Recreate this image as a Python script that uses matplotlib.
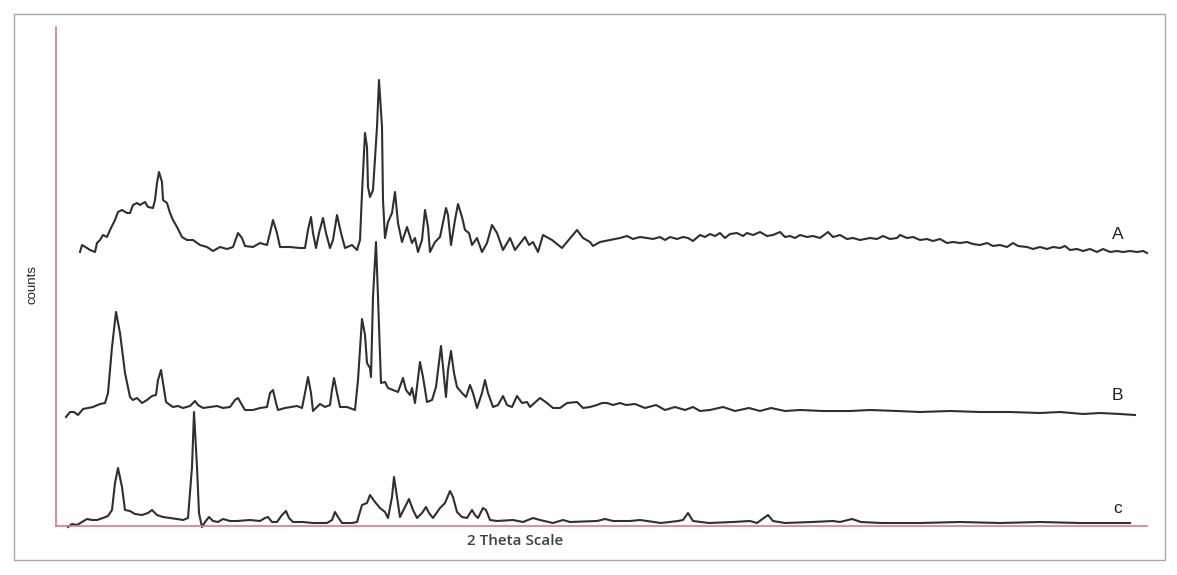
import matplotlib
matplotlib.use("Agg")
import matplotlib.pyplot as plt
from matplotlib.patches import Rectangle

# ---- data (arbitrary 2-theta units, counts) ----
a_x = [24, 26, 31, 34, 39, 41, 44, 47, 51, 54, 59, 62, 66, 71, 74, 77, 81, 84, 89, 92,
       97, 99, 101, 103, 106, 107, 111, 114, 117, 121, 126, 131, 137, 144, 151, 157, 164, 171, 177, 182,
       186, 189, 197, 204, 211, 214, 217, 221, 224, 234, 244, 249, 252, 255, 257, 260, 263, 267, 270, 274,
       277, 281, 285, 289, 296, 301, 304, 306, 309, 311, 312, 314, 317, 321, 323, 326, 327, 329, 332, 336,
       339, 342, 346, 351, 356, 359, 362, 366, 369, 372, 374, 379, 384, 390, 392, 395, 399, 402, 406, 409,
       413, 416, 421, 426, 431, 436, 441, 447, 454, 459, 469, 473, 477, 482, 487, 496, 506, 521, 527, 534,
       537, 544, 554, 564, 571, 577, 584, 591, 597, 604, 609, 614, 621, 627, 632, 637, 644, 649, 654, 659,
       664, 669, 674, 681, 687, 691, 697, 704, 711, 717, 724, 729, 734, 739, 744, 751, 757, 764, 772, 777,
       784, 791, 797, 804, 814, 821, 827, 834, 841, 844, 851, 857, 864, 871, 877, 884, 891, 897, 904, 911,
       917, 924, 931, 937, 944, 951, 957, 962, 971, 977, 984, 991, 997, 1004, 1009, 1014, 1021, 1027, 1034, 1041,
       1047, 1054, 1061, 1067, 1074, 1081, 1087, 1091]
a_y = [274, 281, 278, 276, 274, 283, 286, 291, 289, 296, 306, 314, 316, 313, 313, 321, 323, 321, 324, 319,
       318, 326, 343, 354, 344, 326, 323, 313, 306, 299, 289, 286, 286, 281, 279, 275, 279, 277, 279, 293,
       288, 280, 279, 283, 281, 293, 306, 293, 279, 279, 278, 278, 296, 309, 293, 278, 293, 308, 293, 278,
       286, 311, 293, 278, 281, 276, 286, 333, 393, 379, 339, 329, 336, 399, 446, 399, 326, 288, 304, 313,
       334, 303, 284, 299, 283, 288, 274, 286, 316, 299, 274, 284, 289, 318, 311, 281, 306, 322, 309, 296,
       293, 281, 288, 274, 283, 301, 293, 276, 288, 276, 289, 281, 284, 274, 291, 286, 278, 296, 288, 284,
       280, 284, 286, 288, 290, 287, 289, 288, 287, 289, 286, 289, 287, 289, 288, 285, 291, 289, 292, 290,
       293, 288, 292, 293, 290, 293, 291, 294, 290, 291, 294, 289, 290, 288, 291, 289, 290, 288, 294, 289,
       291, 287, 288, 286, 288, 287, 290, 287, 288, 291, 288, 289, 286, 287, 285, 287, 283, 284, 283, 284,
       282, 281, 283, 280, 281, 279, 283, 280, 279, 277, 279, 277, 279, 278, 280, 276, 277, 275, 277, 274,
       277, 274, 275, 274, 275, 274, 275, 273]

b_x = [10, 14, 18, 22, 27, 32, 37, 44, 49, 52, 56, 60, 64, 69, 74, 77, 81, 86, 91, 96,
       100, 102, 105, 107, 110, 114, 117, 122, 127, 134, 139, 142, 147, 154, 161, 167, 174, 179, 182, 186,
       189, 197, 204, 211, 214, 217, 220, 222, 229, 241, 246, 249, 252, 255, 257, 261, 264, 269, 274, 276,
       278, 281, 284, 291, 299, 302, 306, 309, 311, 314, 315, 317, 320, 322, 325, 329, 332, 337, 342, 347,
       350, 354, 356, 359, 364, 367, 371, 376, 380, 385, 387, 390, 392, 395, 398, 401, 406, 410, 414, 417,
       421, 426, 429, 432, 437, 442, 447, 451, 456, 461, 466, 471, 474, 484, 491, 497, 504, 511, 521, 527,
       534, 541, 546, 551, 557, 564, 570, 579, 589, 600, 609, 619, 629, 637, 644, 654, 667, 679, 693, 704,
       715, 729, 744, 767, 794, 814, 841, 864, 894, 924, 954, 984, 1004, 1027, 1044, 1064, 1079]
b_y = [109, 114, 114, 111, 117, 118, 119, 122, 123, 133, 179, 214, 193, 153, 129, 126, 128, 123, 126, 130,
       131, 146, 156, 143, 124, 121, 119, 120, 118, 120, 125, 121, 118, 119, 120, 118, 119, 126, 128, 121,
       116, 116, 118, 119, 133, 136, 123, 116, 118, 120, 118, 133, 149, 133, 115, 119, 122, 119, 121, 136,
       148, 133, 119, 119, 116, 146, 207, 191, 163, 158, 149, 229, 284, 229, 143, 144, 138, 136, 134, 148,
       136, 131, 138, 123, 164, 149, 124, 126, 139, 180, 159, 129, 156, 175, 153, 139, 133, 129, 141, 133,
       118, 133, 146, 133, 119, 121, 130, 121, 119, 130, 123, 124, 119, 128, 123, 118, 118, 123, 124, 118,
       119, 121, 123, 123, 121, 123, 121, 122, 118, 121, 116, 119, 116, 119, 115, 116, 119, 115, 118, 115,
       118, 115, 116, 115, 115, 116, 115, 114, 115, 114, 114, 113, 114, 112, 113, 112, 111]

c_x = [12, 16, 21, 26, 31, 36, 41, 47, 52, 56, 59, 62, 66, 69, 74, 79, 86, 92, 96, 101,
       107, 114, 121, 127, 132, 136, 138, 141, 143, 146, 149, 153, 157, 162, 167, 174, 181, 194, 204, 209,
       212, 216, 221, 226, 230, 233, 237, 247, 257, 271, 276, 279, 282, 286, 296, 301, 306, 311, 314, 319,
       324, 329, 332, 336, 338, 341, 344, 349, 353, 357, 361, 366, 370, 373, 377, 384, 389, 394, 397, 401,
       406, 411, 416, 419, 422, 427, 430, 434, 441, 457, 467, 477, 484, 497, 507, 514, 541, 549, 557, 574,
       584, 605, 622, 627, 632, 637, 653, 677, 694, 701, 712, 717, 729, 756, 777, 784, 796, 805, 825, 864,
       904, 944, 984, 1024, 1074]
c_y = [-1, 2, 1, 4, 7, 6, 6, 8, 10, 16, 43, 58, 39, 16, 15, 12, 11, 13, 16, 11,
       9, 8, 7, 6, 8, 59, 114, 59, 13, -1, 4, 9, 5, 4, 7, 5, 5, 6, 5, 8,
       9, 4, 4, 11, 15, 8, 4, 4, 3, 3, 6, 14, 9, 3, 3, 4, 21, 23, 31, 24,
       18, 14, 8, 29, 49, 29, 9, 19, 27, 16, 8, 13, 19, 13, 8, 18, 23, 35, 29, 14,
       9, 8, 16, 11, 8, 18, 16, 6, 5, 6, 4, 8, 6, 3, 6, 4, 5, 7, 5, 5,
       6, 3, 5, 6, 13, 5, 3, 4, 5, 3, 11, 5, 3, 4, 5, 4, 7, 4, 3, 3,
       4, 3, 4, 3, 3]

trace_labels = ["A", "B", "c"]
label_x = [1062, 1061, 1062]
label_y = [284, 123, 10]

W, H = 1177, 575
fig = plt.figure(figsize=(W / 100, H / 100), dpi=100)
fig.patch.set_facecolor("white")

# outer gray frame
fig.add_artist(Rectangle((14 / W, 1 - 560 / H), (1165 - 14) / W, (560 - 14) / H,
                         transform=fig.transFigure, fill=False,
                         edgecolor="#a8a8a8", linewidth=1.0))

ax = fig.add_axes([56 / W, 1 - 526 / H, (1147 - 56) / W, (526 - 27) / H])
ax.set_xlim(0, 1091)
ax.set_ylim(0, 499)
for s in ["top", "right"]:
    ax.spines[s].set_visible(False)
for s in ["left", "bottom"]:
    ax.spines[s].set_color("#dc7a84")
    ax.spines[s].set_linewidth(1.2)
ax.set_xticks([])
ax.set_yticks([])
ax.patch.set_alpha(0)

for xs, ys in [(a_x, a_y), (b_x, b_y), (c_x, c_y)]:
    ax.plot(xs, ys, color="#2f2f2f", lw=1.5, clip_on=False, solid_joinstyle="round")

for t, lx, ly in zip(trace_labels, label_x, label_y):
    ax.text(lx, ly, t, fontsize=12.5, color="#222222", ha="center", va="bottom",
            family="Liberation Sans")

fig.text(33 / W, 1 - 285 / H, "counts", rotation=90, fontsize=9.5, color="#222222",
         ha="center", va="center", family="Liberation Sans", fontstretch="condensed")
fig.text(515 / W, 1 - 541 / H, "2 Theta Scale", fontsize=11, color="#404040",
         ha="center", va="center", family="Open Sans", fontweight="semibold")

fig.savefig("out.png", dpi=100)
